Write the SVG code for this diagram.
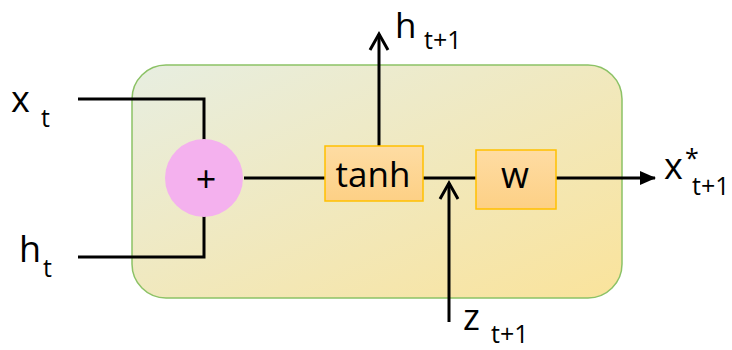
<svg xmlns="http://www.w3.org/2000/svg" width="732" height="350" viewBox="0 0 732 350">
<defs>
<linearGradient id="bg" x1="0" y1="0" x2="1" y2="1">
<stop offset="0" stop-color="#e7eee1"/>
<stop offset="1" stop-color="#fae39b"/>
</linearGradient>
<linearGradient id="og" x1="0" y1="0" x2="0" y2="1">
<stop offset="0" stop-color="#fedca3"/>
<stop offset="1" stop-color="#fdd085"/>
</linearGradient>
<marker id="tri" viewBox="0 0 16 16" refX="15" refY="8" markerWidth="16" markerHeight="16" markerUnits="userSpaceOnUse" orient="auto">
<path d="M0,1 L16,8 L0,15 Z" fill="#000"/>
</marker>
<style>
.ln{fill:none;stroke:#000;stroke-width:3}
.t{font-family:"Open Sans","Liberation Sans",sans-serif;fill:#000}
.m{font-size:36px}
.s{font-size:25px}
.box{fill:url(#og);stroke:#ffc000;stroke-width:1.5}
</style>
</defs>
<g id="cell">
<rect x="132" y="65" width="490" height="233" rx="34" ry="34" fill="url(#bg)" stroke="#8cc266" stroke-width="1.5"/>
</g>
<g id="connectors">
<polyline class="ln" points="78,99 204,99 204,140"/>
<polyline class="ln" points="78,257 204,257 204,216"/>
<line class="ln" x1="244" y1="178" x2="325" y2="178"/>
<line class="ln" x1="423" y1="178" x2="476" y2="178"/>
<line class="ln" x1="556" y1="178" x2="655" y2="178" marker-end="url(#tri)"/>
<line class="ln" x1="379" y1="146" x2="379" y2="34"/>
<polyline class="ln" points="370,50 379,34 388,50"/>
<line class="ln" x1="449" y1="322" x2="449" y2="183"/>
<polyline class="ln" points="440,199 449,183 458,199"/>
</g>
<g id="plus">
<circle cx="204" cy="178" r="39" fill="#f4b1ee"/>
<text class="t" x="206" y="192" font-size="36" text-anchor="middle">+</text>
</g>
<g id="tanh">
<rect class="box" x="325" y="146" width="98" height="55"/>
<text class="t" x="373" y="187" font-size="35" text-anchor="middle">tanh</text>
</g>
<g id="w">
<rect class="box" x="476" y="150" width="80" height="59"/>
<text class="t" x="515" y="188" font-size="36" text-anchor="middle">w</text>
</g>
<g id="labels">
<text class="t m" x="11" y="112">x</text>
<text class="t s" x="41" y="127">t</text>
<text class="t m" x="19" y="262">h</text>
<text class="t s" x="43" y="277">t</text>
<text class="t" x="395" y="38" font-size="35">h</text>
<text class="t s" x="424" y="49">t+1</text>
<text class="t m" x="664" y="179">x</text>
<text class="t s" x="685" y="167">*</text>
<text class="t s" x="692" y="195">t+1</text>
<text class="t m" x="463" y="330">z</text>
<text class="t s" x="491" y="343">t+1</text>
</g>
</svg>
